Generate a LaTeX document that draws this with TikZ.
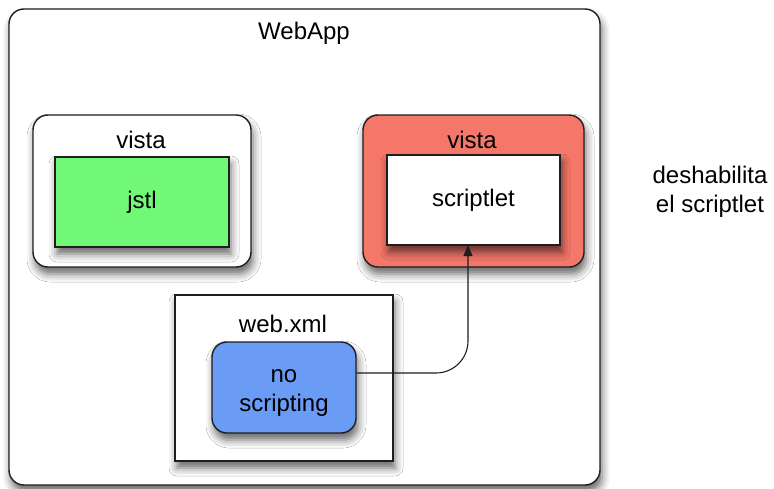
\documentclass[tikz,border=0pt]{standalone}
\usepackage{fontspec}
\setmainfont{Liberation Sans}
\usetikzlibrary{shadows.blur,arrows.meta}
\definecolor{jstlgreen}{HTML}{72F877}
\definecolor{vistared}{HTML}{F4776A}
\definecolor{noblue}{HTML}{6A9BF5}
\definecolor{edge}{HTML}{1E1E1E}
\tikzset{
  box/.style={draw=edge, line width=1.4pt, inner sep=0pt, fill=white,
    blur shadow={shadow xshift=2pt, shadow yshift=-7pt, shadow blur radius=8pt, shadow opacity=60}},
  roundbox/.style={box, rounded corners=15pt},
  lbl/.style={inner sep=0pt, font=\fontsize{24}{29}\selectfont},
  link/.style={draw=edge, line width=1.1pt, rounded corners=32pt, -{Triangle[length=11pt,width=9pt]}}
}
\begin{document}
\begin{tikzpicture}[x=1pt,y=-1pt]
  \useasboundingbox (0,0) rectangle (774,488);
  % application container
  \node[roundbox, minimum width=591pt, minimum height=476pt] (webapp) at (304.5,247) {};
  \node[lbl] (webapptitle) at (304,33) {WebApp};
  % view using JSTL
  \node[roundbox, minimum width=218pt, minimum height=152pt] (vistaA) at (142,191) {};
  \node[lbl] (vistaAtitle) at (141,140) {vista};
  \node[box, fill=jstlgreen, minimum width=174pt, minimum height=90pt] (jstl) at (142,202) {};
  \node[lbl] at (jstl) {jstl};
  % view using scriptlets
  \node[roundbox, fill=vistared, minimum width=221pt, minimum height=152pt] (vistaB) at (473.5,191) {};
  \node[lbl] (vistaBtitle) at (472,140) {vista};
  \node[box, minimum width=173pt, minimum height=90pt] (scr) at (473.5,200) {};
  \node[lbl] at (scr) {scriptlet};
  % deployment descriptor
  \node[box, minimum width=218pt, minimum height=166pt] (webxml) at (284,378) {};
  \node[lbl] (webxmltitle) at (283,324) {web.xml};
  \node[roundbox, fill=noblue, minimum width=144pt, minimum height=91pt] (nos) at (284,387.5) {};
  \node[lbl, align=center] at ([yshift=-6pt]nos.center) {no\\scripting};
  % side note
  \node[lbl, align=center] (note) at (710,192) {deshabilita\\el scriptlet};
  % connector from the setting to the scriptlet view
  \coordinate (outport) at (nos.east |- 0,373);
  \coordinate (inport) at (468,245);
  \draw[link] (outport) -| (inport);
\end{tikzpicture}
\end{document}
